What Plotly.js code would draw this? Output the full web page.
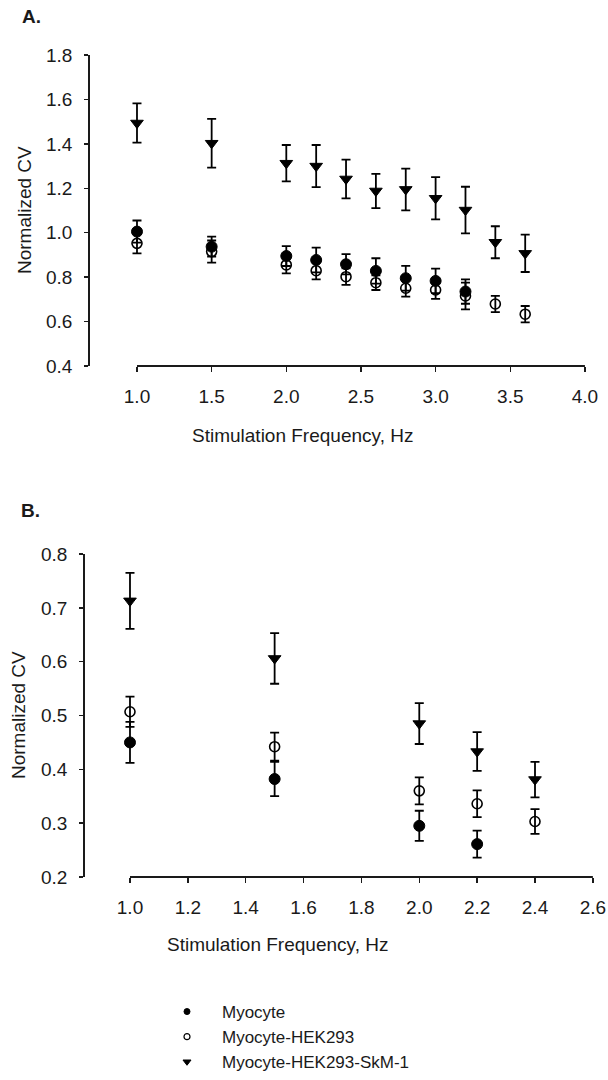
<!DOCTYPE html>
<html>
<head>
<meta charset="utf-8">
<script src="https://cdn.plot.ly/plotly-3.0.1.min.js"></script>
<style>html,body{margin:0;padding:0;background:#fff;overflow:hidden;}#chart{width:608px;height:1080px;}</style>
</head>
<body>
<div id="chart"></div>
<script>
// ---------- Data ----------
var seriesNames = ['Myocyte', 'Myocyte-HEK293', 'Myocyte-HEK293-SkM-1'];

// Panel A
var xA_myo = [1.0, 1.5, 2.0, 2.2, 2.4, 2.6, 2.8, 3.0, 3.2];
var yA_myo = [1.005, 0.937, 0.895, 0.877, 0.858, 0.828, 0.795, 0.783, 0.735];
var eA_myo = [0.050, 0.045, 0.045, 0.056, 0.046, 0.057, 0.056, 0.055, 0.055];

var xA_hek = [1.0, 1.5, 2.0, 2.2, 2.4, 2.6, 2.8, 3.0, 3.2, 3.4, 3.6];
var yA_hek = [0.952, 0.915, 0.855, 0.829, 0.802, 0.775, 0.750, 0.742, 0.715, 0.679, 0.633];
var eA_hek = [0.045, 0.050, 0.038, 0.039, 0.037, 0.033, 0.038, 0.040, 0.060, 0.037, 0.037];

var xA_skm = [1.0, 1.5, 2.0, 2.2, 2.4, 2.6, 2.8, 3.0, 3.2, 3.4, 3.6];
var yA_skm = [1.494, 1.403, 1.313, 1.300, 1.242, 1.188, 1.195, 1.155, 1.102, 0.957, 0.907];
var eA_skm = [0.088, 0.110, 0.082, 0.095, 0.087, 0.077, 0.094, 0.095, 0.105, 0.072, 0.084];

// Panel B
var xB_myo = [1.0, 1.5, 2.0, 2.2];
var yB_myo = [0.450, 0.382, 0.295, 0.261];
var eB_myo = [0.038, 0.032, 0.028, 0.025];

var xB_hek = [1.0, 1.5, 2.0, 2.2, 2.4];
var yB_hek = [0.507, 0.442, 0.360, 0.336, 0.303];
var eB_hek = [0.028, 0.026, 0.025, 0.025, 0.023];

var xB_skm = [1.0, 1.5, 2.0, 2.2, 2.4];
var yB_skm = [0.713, 0.606, 0.485, 0.433, 0.381];
var eB_skm = [0.052, 0.047, 0.038, 0.036, 0.033];

// Tick values
var xTicksA = [1.0, 1.5, 2.0, 2.5, 3.0, 3.5, 4.0];
var yTicksA = [0.4, 0.6, 0.8, 1.0, 1.2, 1.4, 1.6, 1.8];
var xTicksB = [1.0, 1.2, 1.4, 1.6, 1.8, 2.0, 2.2, 2.4, 2.6];
var yTicksB = [0.2, 0.3, 0.4, 0.5, 0.6, 0.7, 0.8];

var xTitle = 'Stimulation Frequency, Hz';
var yTitle = 'Normalized CV';
var panelLabels = ['A.', 'B.'];

// ---------- Styling ----------
var W = 608, H = 1080;
function px(v) { return v / W; }
function py(v) { return 1 - v / H; }
var FONT = 'Liberation Sans, Arial, Helvetica, sans-serif';
var INK = '#1a1a1a';

var styles = [
  {symbol: 'circle', size: 11, color: '#000', line: {color: '#000', width: 1}},
  {symbol: 'circle-open', size: 10, color: '#000', line: {color: '#000', width: 1.6}},
  {symbol: 'triangle-down', size: 11, color: '#000', line: {color: '#000', width: 1}}
];
var legendStyles = [
  {symbol: 'circle', size: 6, color: '#000', line: {color: '#000', width: 1}},
  {symbol: 'circle-open', size: 6, color: '#000', line: {color: '#000', width: 1.2}},
  {symbol: 'triangle-down', size: 7, color: '#000', line: {color: '#000', width: 1}}
];

function trace(x, y, e, i, xa, ya) {
  var s = styles[i];
  return {
    type: 'scatter', mode: 'markers', x: x, y: y,
    xaxis: xa, yaxis: ya, name: seriesNames[i], showlegend: false,
    cliponaxis: false,
    marker: {symbol: s.symbol, size: s.size, color: s.color, line: s.line},
    error_y: {type: 'data', array: e, visible: true, color: '#000', thickness: 1.8, width: 4.5}
  };
}

var data = [
  trace(xA_myo, yA_myo, eA_myo, 0, 'x', 'y'),
  trace(xA_hek, yA_hek, eA_hek, 1, 'x', 'y'),
  trace(xA_skm, yA_skm, eA_skm, 2, 'x', 'y'),
  trace(xB_myo, yB_myo, eB_myo, 0, 'x2', 'y2'),
  trace(xB_hek, yB_hek, eB_hek, 1, 'x2', 'y2'),
  trace(xB_skm, yB_skm, eB_skm, 2, 'x2', 'y2')
];
// legend entries (no data of their own)
for (var i = 0; i < 3; i++) {
  var ls = legendStyles[i];
  data.push({
    type: 'scatter', mode: 'markers', x: [null], y: [null], xaxis: 'x2', yaxis: 'y2',
    name: seriesNames[i], showlegend: true,
    marker: {symbol: ls.symbol, size: ls.size, color: ls.color, line: ls.line}
  });
}

function fmt(ticks) { return ticks.map(function (v) { return v.toFixed(1); }); }

// x axis: plotting area begins at the y-axis, the drawn axis line spans first..last tick
function xAxis(domain, range, ticks, anchor) {
  return {
    domain: domain, range: range, anchor: anchor,
    tickmode: 'array', tickvals: ticks, ticktext: fmt(ticks),
    ticks: 'outside', ticklen: 5, tickwidth: 1.5, tickcolor: INK,
    showline: false,
    showgrid: false, zeroline: false, fixedrange: true,
    ticklabelstandoff: 8,
    tickfont: {family: FONT, size: 19, color: INK}
  };
}
function yAxis(domain, range, ticks, anchor) {
  return {
    domain: domain, range: range, anchor: anchor,
    tickmode: 'array', tickvals: ticks, ticktext: fmt(ticks),
    ticks: 'outside', ticklen: 4, tickwidth: 1.5, tickcolor: INK,
    showline: true, linecolor: INK, linewidth: 1.8,
    showgrid: false, zeroline: false, fixedrange: true,
    ticklabelstandoff: 8,
    tickfont: {family: FONT, size: 19, color: INK}
  };
}

// pixel geometry of the two panels
var A = {yAxisX: 90, x0px: 137, x1px: 585, top: 55, bottom: 366};
var B = {yAxisX: 85, x0px: 130, x1px: 593, top: 554, bottom: 877};
function xRange(P, ticks) {
  var lo = ticks[0], hi = ticks[ticks.length - 1];
  var scale = (P.x1px - P.x0px) / (hi - lo);
  return [lo - (P.x0px - P.yAxisX) / scale, hi + 0.0005];
}

function axisLine(xref, yref, ticks) {
  return {type: 'line', xref: xref, yref: yref + ' domain',
          x0: ticks[0], x1: ticks[ticks.length - 1], y0: 0, y1: 0,
          line: {color: INK, width: 1.8}};
}

function ann(text, x, y, angle) {
  return {text: text, x: px(x), y: py(y), xref: 'paper', yref: 'paper',
          xanchor: 'center', yanchor: 'middle', textangle: angle || 0,
          showarrow: false, font: {family: FONT, size: 19, color: INK}};
}

var layout = {
  width: W, height: H,
  margin: {l: 0, r: 0, t: 0, b: 0},
  paper_bgcolor: '#fff', plot_bgcolor: 'rgba(0,0,0,0)',
  showlegend: true,
  xaxis: xAxis([px(A.yAxisX), px(A.x1px)], xRange(A, xTicksA), xTicksA, 'y'),
  yaxis: yAxis([py(A.bottom), py(A.top)], [0.3998, 1.8002], yTicksA, 'x'),
  xaxis2: xAxis([px(B.yAxisX), px(B.x1px)], xRange(B, xTicksB), xTicksB, 'y2'),
  yaxis2: yAxis([py(B.bottom), py(B.top)], [0.1999, 0.8001], yTicksB, 'x2'),
  shapes: [axisLine('x', 'y', xTicksA), axisLine('x2', 'y2', xTicksB)],
  legend: {
    x: px(152), y: 0, xanchor: 'left', yanchor: 'bottom',
    font: {family: FONT, size: 17, color: INK},
    bgcolor: 'rgba(0,0,0,0)', borderwidth: 0,
    tracegroupgap: 0, itemwidth: 60
  },
  annotations: [
    (function () { var a = ann('<b>' + panelLabels[0] + '</b>', 31, 17); return a; })(),
    ann('<b>' + panelLabels[1] + '</b>', 30, 510),
    ann(xTitle, 302, 435),
    ann(xTitle, 277, 944),
    ann(yTitle, 25, 210, -90),
    ann(yTitle, 18, 715, -90)
  ]
};

Plotly.newPlot('chart', data, layout, {displayModeBar: false, staticPlot: true});
</script>
</body>
</html>
